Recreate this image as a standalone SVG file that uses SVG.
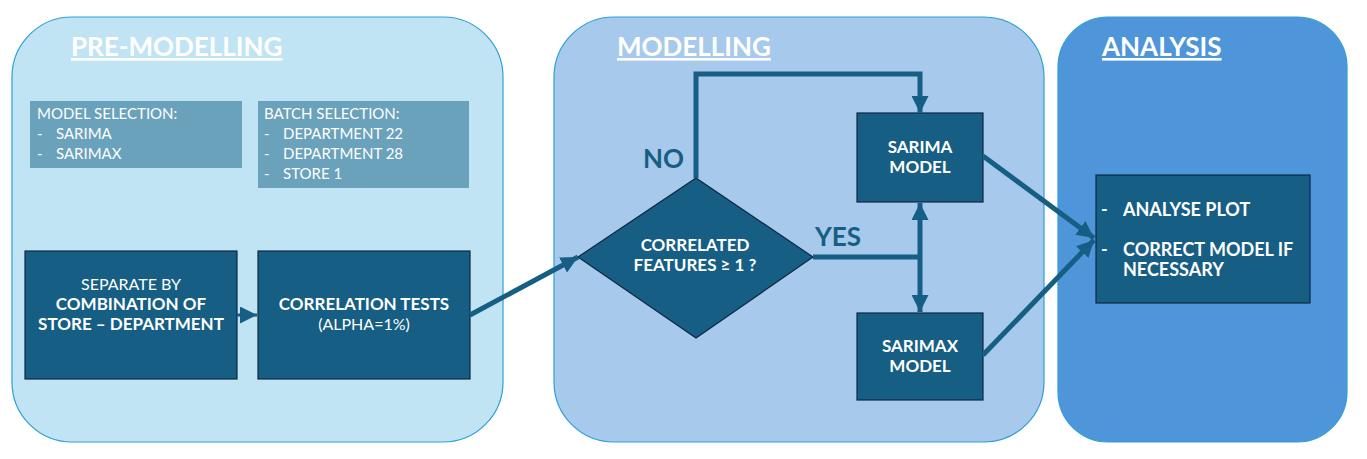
<svg xmlns="http://www.w3.org/2000/svg" width="1367" height="459" viewBox="0 0 1367 459">
<style>
text{font-family:"Lato","Liberation Sans",sans-serif;fill:#fff}
.title{font-size:26px;font-weight:bold;text-decoration:underline}
.sel{font-size:15px}
.box{fill:#165E83;stroke:#0E2841;stroke-width:1.2}
.bt{font-size:17px;font-weight:bold}
.bt2{font-size:18px;font-weight:bold}
.nt{font-size:16px}
.lbl{font-size:26px;font-weight:bold;fill:#165E83}
.con{fill:none;stroke:#165E83;stroke-width:5}
</style>
<defs>
<marker id="ah" viewBox="0 0 10 10" refX="10" refY="5" markerWidth="17" markerHeight="17" markerUnits="userSpaceOnUse" orient="auto">
<path d="M0,0 L10,5 L0,10 z" fill="#165E83"/>
</marker>
</defs>
<g id="pre-modelling">
<rect x="12" y="17" width="491" height="425" rx="60" fill="#C1E4F5" stroke="#2E9FD6" stroke-width="1.2"/>
<text class="title" x="71" y="56">PRE-MODELLING</text>
</g>
<g id="modelling">
<rect x="554" y="17" width="490" height="425" rx="60" fill="#A6C9EC" stroke="#2E9FD6" stroke-width="1.2"/>
<text class="title" x="617" y="56">MODELLING</text>
</g>
<g id="analysis">
<rect x="1058" y="17" width="289" height="425" rx="50" fill="#4E95D9" stroke="#2E9FD6" stroke-width="1.2"/>
<text class="title" x="1102" y="56">ANALYSIS</text>
</g>
<g id="model-selection">
<rect x="30" y="101" width="212" height="67" fill="#6AA2BC"/>
<text class="sel" x="37" y="119">MODEL SELECTION:</text>
<text class="sel" x="37" y="139">-</text><text class="sel" x="56" y="139">SARIMA</text>
<text class="sel" x="37" y="159">-</text><text class="sel" x="56" y="159">SARIMAX</text>
</g>
<g id="batch-selection">
<rect x="258" y="101" width="211" height="87" fill="#6AA2BC"/>
<text class="sel" x="264" y="119">BATCH SELECTION:</text>
<text class="sel" x="264" y="139">-</text><text class="sel" x="283" y="139">DEPARTMENT 22</text>
<text class="sel" x="264" y="159">-</text><text class="sel" x="283" y="159">DEPARTMENT 28</text>
<text class="sel" x="264" y="179">-</text><text class="sel" x="283" y="179">STORE 1</text>
</g>
<g id="separate">
<rect class="box" x="25" y="251" width="212" height="128"/>
<text class="nt" x="131" y="290" text-anchor="middle">SEPARATE BY</text>
<text class="bt" x="131" y="310" text-anchor="middle">COMBINATION OF</text>
<text class="bt" x="131" y="330" text-anchor="middle">STORE – DEPARTMENT</text>
</g>
<g id="correlation-tests">
<rect class="box" x="258" y="251" width="212" height="128"/>
<text class="bt" x="364" y="310" text-anchor="middle">CORRELATION TESTS</text>
<text class="nt" x="364" y="330" text-anchor="middle">(ALPHA=1%)</text>
</g>
<g id="decision">
<polygon class="box" points="578,257 696,178 813,257 696,338"/>
<text class="bt" x="695" y="251" text-anchor="middle">CORRELATED</text>
<text class="bt" x="695" y="271" text-anchor="middle">FEATURES ≥ 1 ?</text>
</g>
<g id="sarima">
<rect class="box" x="857" y="113" width="126" height="89"/>
<text class="bt" x="920" y="153" text-anchor="middle">SARIMA</text>
<text class="bt" x="920" y="173" text-anchor="middle">MODEL</text>
</g>
<g id="sarimax">
<rect class="box" x="857" y="313" width="126" height="87"/>
<text class="bt" x="920" y="352" text-anchor="middle">SARIMAX</text>
<text class="bt" x="920" y="372" text-anchor="middle">MODEL</text>
</g>
<g id="analyse-box">
<rect class="box" x="1096" y="175" width="214" height="128"/>
<text class="bt2" x="1101" y="216">-</text><text class="bt2" x="1123" y="216">ANALYSE PLOT</text>
<text class="bt2" x="1101" y="256">-</text><text class="bt2" x="1123" y="256">CORRECT MODEL IF</text>
<text class="bt2" x="1123" y="276">NECESSARY</text>
</g>
<g id="connectors">
<line x1="237" y1="315" x2="257" y2="315" stroke="#165E83" stroke-width="3" marker-end="url(#ah)"/>
<line class="con" x1="470" y1="315" x2="578" y2="257" marker-end="url(#ah)"/>
<polyline class="con" points="696,178 696,74 920,74 920,113" marker-end="url(#ah)"/>
<polyline class="con" points="813,257 920,257"/>
<line class="con" x1="920" y1="257" x2="920" y2="203" marker-end="url(#ah)"/>
<line class="con" x1="920" y1="257" x2="920" y2="312" marker-end="url(#ah)"/>
<line class="con" x1="983" y1="156" x2="1094" y2="238" marker-end="url(#ah)"/>
<line class="con" x1="983" y1="355" x2="1094" y2="240" marker-end="url(#ah)"/>
<text class="lbl" x="643" y="168">NO</text>
<text class="lbl" x="815" y="246">YES</text>
</g>
</svg>
